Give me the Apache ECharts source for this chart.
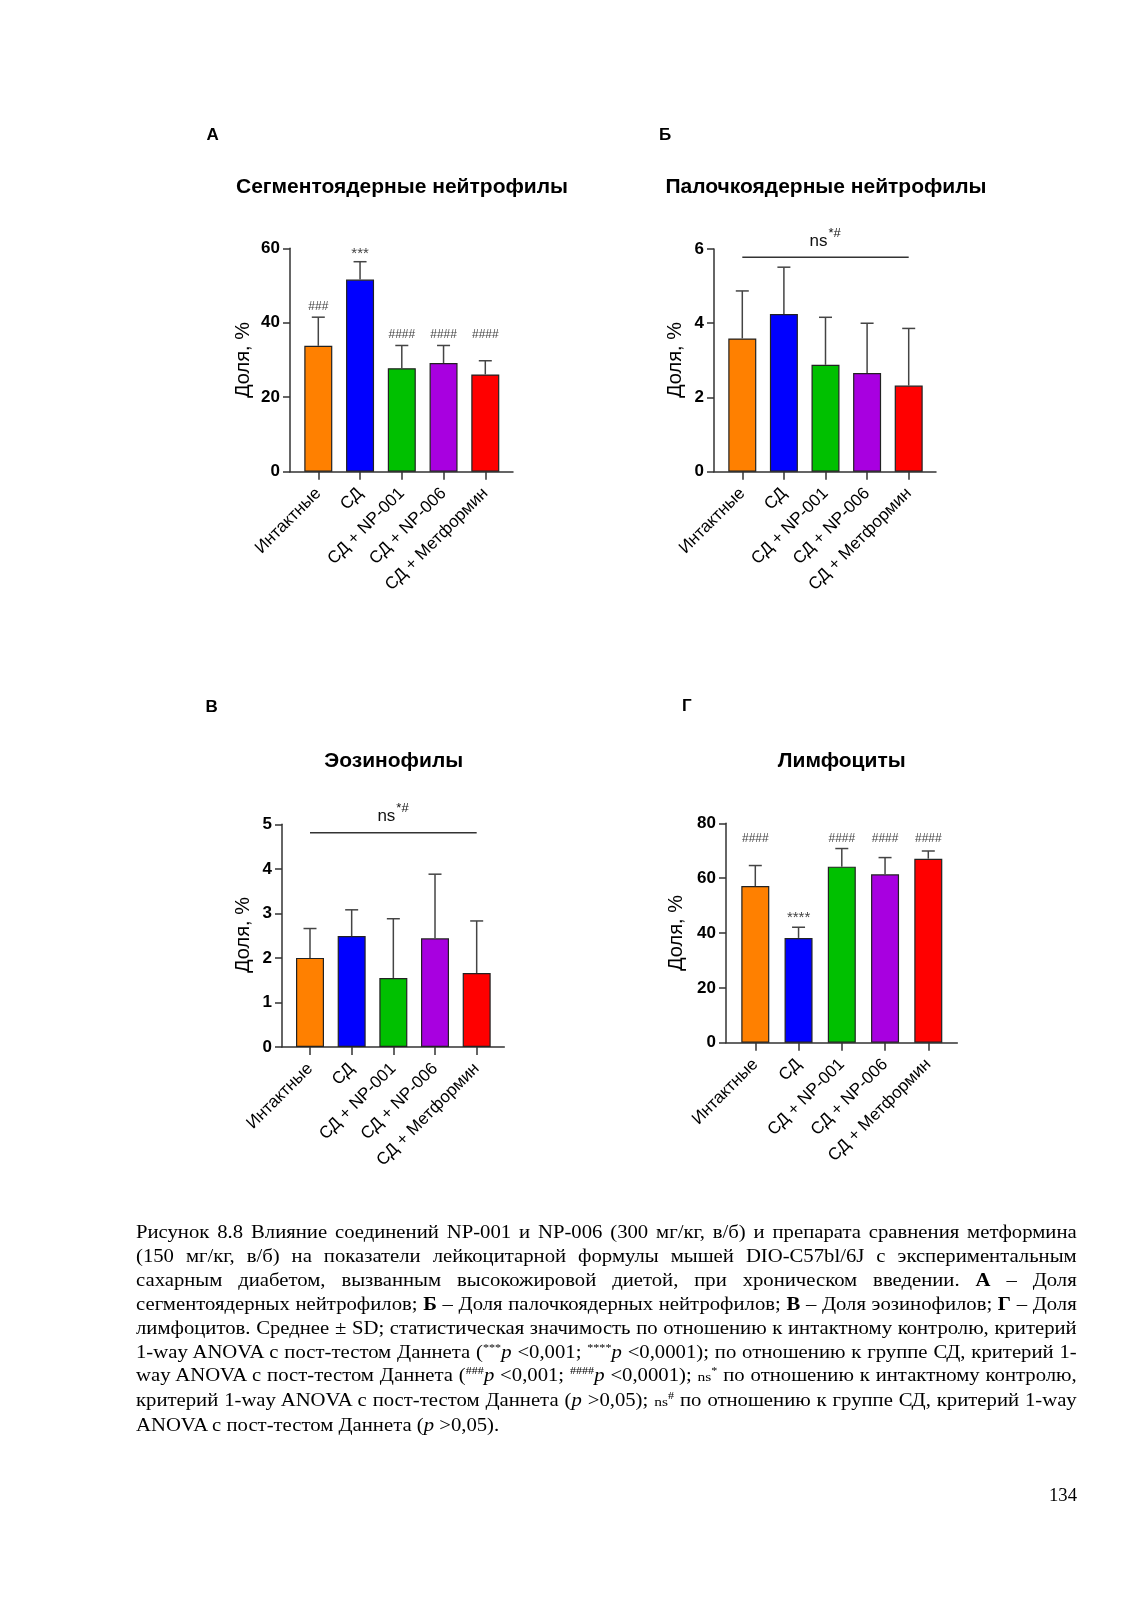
<!DOCTYPE html>
<html><head><meta charset="utf-8">
<script src="https://cdn.jsdelivr.net/npm/echarts@6/dist/echarts.min.js"></script>
<style>
html,body{margin:0;padding:0;background:#fff;}
#chart{position:absolute;left:0;top:0;width:1132px;height:1601px;}
#caption{position:absolute;left:136px;top:1221px;width:818px;transform:scaleX(1.15);transform-origin:0 0;font-family:"Liberation Serif","Times New Roman",serif;font-size:18px;line-height:23.9px;color:#000;}
#caption .l{text-align:justify;text-align-last:justify;}
#caption .last{text-align:left;text-align-last:left;}
#caption sup{font-size:10.5px;line-height:0;vertical-align:7px;}
#caption .ns{font-size:13.5px;}
#page{position:absolute;right:55px;top:1484px;font-family:"Liberation Serif","Times New Roman",serif;font-size:18.7px;}
</style></head>
<body>
<div id="chart"></div>
<div id="caption">
<div class="l">Рисунок 8.8 Влияние соединений NP-001 и NP-006 (300 мг/кг, в/б) и препарата сравнения метформина</div>
<div class="l">(150 мг/кг, в/б) на показатели лейкоцитарной формулы мышей DIO-C57bl/6J с экспериментальным</div>
<div class="l">сахарным диабетом, вызванным высокожировой диетой, при хроническом введении. <b>А</b> – Доля</div>
<div class="l">сегментоядерных нейтрофилов; <b>Б</b> – Доля палочкоядерных нейтрофилов; <b>В</b> – Доля эозинофилов; <b>Г</b> – Доля</div>
<div class="l">лимфоцитов. Среднее ± SD; статистическая значимость по отношению к интактному контролю, критерий</div>
<div class="l">1-way ANOVA с пост-тестом Даннета (<sup>***</sup><i>p</i> &lt;0,001; <sup>****</sup><i>p</i> &lt;0,0001); по отношению к группе СД, критерий 1-</div>
<div class="l">way ANOVA с пост-тестом Даннета (<sup>###</sup><i>p</i> &lt;0,001; <sup>####</sup><i>p</i> &lt;0,0001); <span class="ns">ns</span><sup>*</sup> по отношению к интактному контролю,</div>
<div class="l">критерий 1-way ANOVA с пост-тестом Даннета (<i>p</i> &gt;0,05); <span class="ns">ns</span><sup>#</sup> по отношению к группе СД, критерий 1-way</div>
<div class="l last">ANOVA с пост-тестом Даннета (<i>p</i> &gt;0,05).</div>
</div>
<div id="page">134</div>
<script>
// ---- data ----
const categories = ['Интактные', 'СД', 'СД + NP-001', 'СД + NP-006', 'СД + Метформин'];
const barColors = ['#FF8000', '#0000FF', '#00C000', '#A800E0', '#FF0000'];

const segMean = [33.8, 51.6, 27.8, 29.2, 26.1];
const segSD = [7.7, 4.8, 6.1, 4.7, 3.7];
const segMarks = ['###', '***', '####', '####', '####'];
const segMarkY = [44.3, 58.6, 36.9, 36.9, 36.9];
const segTicks = [0, 20, 40, 60];

const rodMean = [3.59, 4.25, 2.88, 2.66, 2.32];
const rodSD = [1.28, 1.26, 1.28, 1.34, 1.54];
const rodNsY = 5.78;
const rodTicks = [0, 2, 4, 6];

const eosMean = [2.00, 2.49, 1.55, 2.44, 1.66];
const eosSD = [0.66, 0.59, 1.33, 1.44, 1.17];
const eosNsY = 4.81;
const eosTicks = [0, 1, 2, 3, 4, 5];

const lymMean = [57.1, 38.2, 64.2, 61.4, 67.1];
const lymSD = [7.5, 3.9, 6.6, 6.1, 2.8];
const lymMarks = ['####', '****', '####', '####', '####'];
const lymMarkY = [74.5, 45.5, 74.5, 74.5, 74.5];
const lymTicks = [0, 20, 40, 60, 80];

// ---- layout ----
const FONT = '"Liberation Sans", Arial, sans-serif';
const panels = [
  {letter: 'А', title: 'Сегментоядерные нейтрофилы', mean: segMean, sd: segSD, marks: segMarks, markY: segMarkY, ns: null, ticks: segTicks,
   axisX: 290, axisEnd: 513, top: 248.3, bottom: 471.7, firstTick: 318.3, spacing: 41.75,
   titleX: 402, titleY: 187, letterX: 212.7, letterY: 135, nameX: 243.3, nameY: 360},
  {letter: 'Б', title: 'Палочкоядерные нейтрофилы', mean: rodMean, sd: rodSD, marks: null, markY: null, ns: rodNsY, ticks: rodTicks,
   axisX: 714, axisEnd: 936, top: 249, bottom: 471.7, firstTick: 742.3, spacing: 41.6,
   titleX: 826, titleY: 187, letterX: 665, letterY: 135, nameX: 675, nameY: 360},
  {letter: 'В', title: 'Эозинофилы', mean: eosMean, sd: eosSD, marks: null, markY: null, ns: eosNsY, ticks: eosTicks,
   axisX: 282, axisEnd: 504.3, top: 824.3, bottom: 1047, firstTick: 310, spacing: 41.67,
   titleX: 393.7, titleY: 761.7, letterX: 211.7, letterY: 707.3, nameX: 243.3, nameY: 935},
  {letter: 'Г', title: 'Лимфоциты', mean: lymMean, sd: lymSD, marks: lymMarks, markY: lymMarkY, ns: null, ticks: lymTicks,
   axisX: 726, axisEnd: 957.3, top: 823.3, bottom: 1042.7, firstTick: 755.3, spacing: 43.25,
   titleX: 841.7, titleY: 761.7, letterX: 686.7, letterY: 706.7, nameX: 676.7, nameY: 933}
];

const AXIS_COLOR = '#333';
const grid = [], xAxis = [], yAxis = [], series = [], graphic = [];

panels.forEach((p, k) => {
  const g0 = 2 * k, g1 = 2 * k + 1;
  const yMin = p.ticks[0], yMax = p.ticks[p.ticks.length - 1], yInt = p.ticks[1] - p.ticks[0];
  grid.push({left: p.axisX, top: p.top, width: p.axisEnd - p.axisX, height: p.bottom - p.top});
  grid.push({left: p.firstTick - p.spacing / 2, top: p.top, width: p.spacing * categories.length, height: p.bottom - p.top});
  xAxis.push({gridIndex: g0, type: 'value', min: 0, max: 1, axisLine: {show: true, onZero: false, lineStyle: {color: AXIS_COLOR, width: 1.5}},
    axisTick: {show: false}, axisLabel: {show: false}, splitLine: {show: false}});
  xAxis.push({gridIndex: g1, type: 'category', data: categories, axisLine: {show: false},
    axisTick: {show: true, alignWithLabel: true, length: 8, lineStyle: {color: AXIS_COLOR, width: 1.5}},
    axisLabel: {rotate: 45, interval: 0, margin: 19, fontSize: 17, color: '#000', fontFamily: FONT}});
  yAxis.push({gridIndex: g0, type: 'value', min: yMin, max: yMax, interval: yInt,
    axisLine: {show: true, lineStyle: {color: AXIS_COLOR, width: 1.5}},
    axisTick: {show: true, length: 7, lineStyle: {color: AXIS_COLOR, width: 1.5}},
    axisLabel: {margin: 10, fontSize: 17, fontWeight: 'bold', color: '#000', fontFamily: FONT},
    splitLine: {show: false}});
  yAxis.push({gridIndex: g1, type: 'value', min: yMin, max: yMax, show: false});

  series.push({type: 'bar', xAxisIndex: g1, yAxisIndex: g1, barWidth: 28, z: 2,
    data: p.mean.map((v, i) => ({value: v, itemStyle: {color: barColors[i], borderColor: '#222', borderWidth: 1.2}}))});

  const sdArr = p.sd;
  series.push({type: 'custom', xAxisIndex: g1, yAxisIndex: g1, z: 3,
    data: p.mean.map((v, i) => [i, v, v + sdArr[i]]),
    renderItem: (params, api) => {
      const a = api.coord([api.value(0), api.value(1)]);
      const b = api.coord([api.value(0), api.value(2)]);
      const st = {stroke: '#444', lineWidth: 1.5};
      return {type: 'group', children: [
        {type: 'line', shape: {x1: a[0], y1: a[1], x2: b[0], y2: b[1]}, style: st},
        {type: 'line', shape: {x1: b[0] - 6.5, y1: b[1], x2: b[0] + 6.5, y2: b[1]}, style: st}
      ]};
    }});

  if (p.marks) {
    const marks = p.marks;
    series.push({type: 'custom', xAxisIndex: g1, yAxisIndex: g1, z: 4,
      data: p.markY.map((y, i) => [i, y]),
      renderItem: (params, api) => {
        const c = api.coord([api.value(0), api.value(1)]);
        const t = marks[params.dataIndex];
        const isStar = t.charAt(0) === '*';
        return {type: 'text', x: c[0], y: c[1], style: {text: t, textAlign: 'center', textVerticalAlign: 'middle',
          fill: '#444', font: (isStar ? '15px ' : '12px ') + FONT}};
      }});
  }
  if (p.ns !== null) {
    series.push({type: 'custom', xAxisIndex: g1, yAxisIndex: g1, z: 4,
      data: [[0, categories.length - 1, p.ns]],
      renderItem: (params, api) => {
        const a = api.coord([api.value(0), api.value(2)]);
        const b = api.coord([api.value(1), api.value(2)]);
        const cx = (a[0] + b[0]) / 2;
        return {type: 'group', children: [
          {type: 'line', shape: {x1: a[0], y1: a[1], x2: b[0], y2: b[1]}, style: {stroke: '#333', lineWidth: 1.5}},
          {type: 'text', x: cx + 2, y: a[1] - 16, style: {text: 'ns', textAlign: 'right', textVerticalAlign: 'middle', fill: '#111', font: '17px ' + FONT}},
          {type: 'text', x: cx + 3, y: a[1] - 24, style: {text: '*#', textAlign: 'left', textVerticalAlign: 'middle', fill: '#111', font: '13px ' + FONT}}
        ]};
      }});
  }

  graphic.push({type: 'text', x: p.titleX, y: p.titleY, style: {text: p.title, textAlign: 'center', textVerticalAlign: 'middle',
    fill: '#000', font: 'bold 21px ' + FONT}});
  graphic.push({type: 'text', x: p.letterX, y: p.letterY, style: {text: p.letter, textAlign: 'center', textVerticalAlign: 'middle',
    fill: '#000', font: 'bold 17px ' + FONT}});
  graphic.push({type: 'text', x: p.nameX, y: p.nameY, rotation: Math.PI / 2, style: {text: 'Доля, %', textAlign: 'center', textVerticalAlign: 'middle',
    fill: '#000', font: '20px ' + FONT}});
});

const chart = echarts.init(document.getElementById('chart'), null, {renderer: 'canvas'});
chart.setOption({animation: false, backgroundColor: '#fff', grid, xAxis, yAxis, series, graphic});
</script>
</body></html>
